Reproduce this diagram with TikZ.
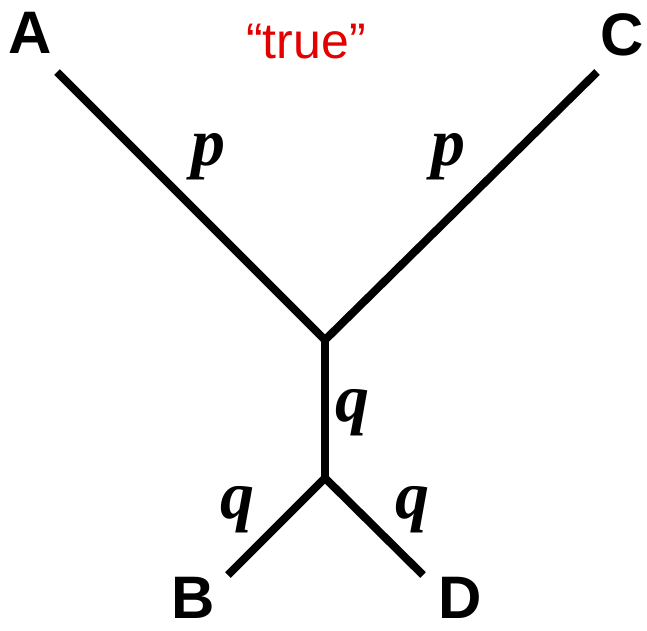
\documentclass[tikz,border=0pt]{standalone}
\usepackage{fontspec}
\setmainfont{Liberation Serif}
\newfontfamily\lsans{Liberation Sans}
\definecolor{truered}{RGB}{226,0,0}
\begin{document}
\begin{tikzpicture}[x=1pt,y=-1pt,
  branch/.style={line width=8pt,line join=miter,line cap=butt,black},
  leaf/.style={inner sep=0pt,font=\lsans\bfseries\fontsize{60}{70}\selectfont},
  blen/.style={inner sep=0pt,font=\bfseries\itshape\fontsize{68}{74}\selectfont},
  title/.style={inner sep=0pt,text=truered,font=\lsans\fontsize{50}{56}\selectfont}]
\useasboundingbox (0,0) rectangle (647,630);
\coordinate (endA) at (57,72);
\coordinate (endC) at (597,72);
\coordinate (j1) at (325,340);
\coordinate (j2) at (325,478);
\coordinate (endB) at (228,575);
\coordinate (endD) at (423,575);
\draw[branch] (endA) -- (j1) -- (endC);
\draw[branch] (j1) -- (j2);
\draw[branch] (endB) -- (j2) -- (endD);
\node[leaf] (A) at (30,33) {A};
\node[leaf] (C) at (622,35) {C};
\node[leaf] (B) at (193,598) {B};
\node[leaf] (D) at (460,598) {D};
\node[title] (T) at (306,42) {“true”};
\node[blen] (p1) at (208,157) {p};
\node[blen] (p2) at (448,157) {p};
\node[blen] (q1) at (352,413) {q};
\node[blen] (q2) at (237,510) {q};
\node[blen] (q3) at (412,510) {q};
\end{tikzpicture}
\end{document}
